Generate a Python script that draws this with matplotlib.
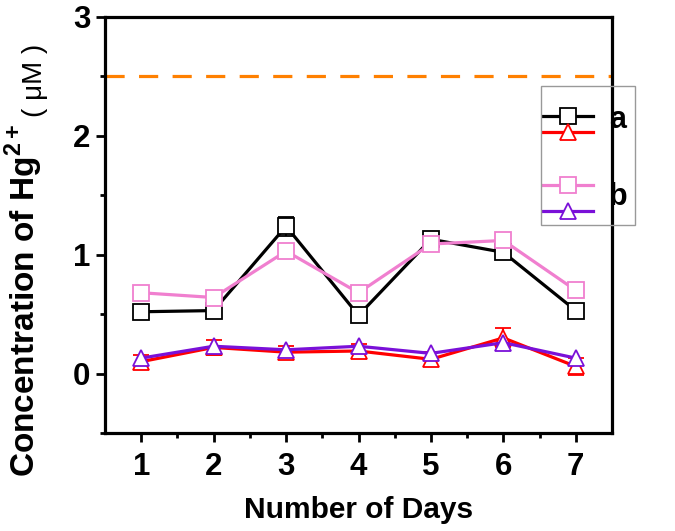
import matplotlib
matplotlib.use("Agg")
import matplotlib.pyplot as plt
import matplotlib.patches as patches
from matplotlib.lines import Line2D

plt.rcParams['font.family'] = ['Liberation Sans', 'DejaVu Sans']
plt.rcParams['mathtext.fontset'] = 'custom'
plt.rcParams['mathtext.rm'] = 'Liberation Sans:bold'
plt.rcParams['mathtext.bf'] = 'Liberation Sans:bold'

# --- data ---
days = [1, 2, 3, 4, 5, 6, 7]
a_black = [0.52, 0.53, 1.24, 0.49, 1.13, 1.02, 0.53]
a_black_err = [0.03, 0.03, 0.08, 0.05, 0.04, 0.05, 0.04]
a_red = [0.10, 0.22, 0.18, 0.19, 0.12, 0.30, 0.06]
a_red_err = [0.06, 0.06, 0.05, 0.06, 0.06, 0.08, 0.07]
b_pink = [0.68, 0.64, 1.03, 0.68, 1.09, 1.12, 0.70]
b_purple = [0.13, 0.23, 0.20, 0.23, 0.17, 0.26, 0.13]
limit_value = 2.5

W, H = 675, 531
fig = plt.figure(figsize=(W / 100, H / 100), dpi=100)
ax = fig.add_axes([105 / W, 1 - 433 / H, (612 - 105) / W, (433 - 17) / H])

ax.axhline(limit_value, color='#ff8000', lw=2.3, dashes=(6, 4.5), zorder=1)

lw = 2.3
ms = 11.5
mew = 1.3
pink = '#f07fcf'
purple = '#7a10d8'

ax.plot(days, b_pink, color=pink, lw=lw, marker='s', ms=ms, mfc='white',
        mec=pink, mew=mew, zorder=3)
ax.errorbar(days, a_black, yerr=a_black_err, color='black', lw=lw, marker='s',
            ms=ms, mfc='white', mec='black', mew=mew, capsize=6, elinewidth=1.5,
            capthick=1.5, zorder=2)
ax.errorbar(days, a_red, yerr=a_red_err, color='red', lw=lw, marker='^',
            ms=ms, mfc='white', mec='red', mew=mew, capsize=6, elinewidth=1.5,
            capthick=1.5, zorder=4)
ax.plot(days, b_purple, color=purple, lw=lw, marker='^', ms=ms, mfc='white',
        mec=purple, mew=mew, zorder=5)

# --- axes formatting ---
ax.set_xlim(0.5, 7.5)
ax.set_ylim(-0.5, 3)
ax.set_xticks(days)
ax.set_xticks([1.5, 2.5, 3.5, 4.5, 5.5, 6.5], minor=True)
ax.set_yticks([0, 1, 2, 3])
ax.set_yticks([-0.5, 0.5, 1.5, 2.5], minor=True)
for s in ax.spines.values():
    s.set_linewidth(2.3)
ax.tick_params(which='major', direction='out', length=6.5, width=2, labelsize=22.5)
ax.tick_params(axis='x', which='major', pad=7)
ax.tick_params(axis='y', which='major', pad=4)
ax.tick_params(which='minor', direction='out', length=3.5, width=2)
ax.tick_params(top=False, right=False)
for lab in ax.get_xticklabels() + ax.get_yticklabels():
    lab.set_fontweight('bold')

ax.set_xlabel('Number of Days', fontsize=21.5, fontweight='bold', labelpad=10)

# y label: bold part and the (μM) part in normal weight
fig.text(35 / W, 1 - 477 / H, r'Concentration of Hg$^{2+}$', rotation=90,
         rotation_mode='anchor', fontsize=24, fontweight='bold',
         ha='left', va='baseline')
fig.text(42 / W, 1 - 117 / H, '( μM )', rotation=90, rotation_mode='anchor',
         fontsize=20, ha='left', va='baseline')

# --- legend ---
h_black = Line2D([], [], color='black', lw=lw, marker='s', ms=ms, mfc='white', mec='black', mew=mew)
h_red = Line2D([], [], color='red', lw=lw, marker='^', ms=ms, mfc='white', mec='red', mew=mew)
h_pink = Line2D([], [], color=pink, lw=lw, marker='s', ms=ms, mfc='white', mec=pink, mew=mew)
h_purple = Line2D([], [], color=purple, lw=lw, marker='^', ms=ms, mfc='white', mec=purple, mew=mew)

leg1 = ax.legend([h_black, h_red], ['', ''], frameon=False, fontsize=10,
                 handlelength=3.6, labelspacing=0.15, borderpad=0, borderaxespad=0,
                 loc='center left', bbox_to_anchor=(543 / W, 1 - 125 / H),
                 bbox_transform=fig.transFigure)
ax.add_artist(leg1)
leg2 = ax.legend([h_pink, h_purple], ['', ''], frameon=False, fontsize=10,
                 handlelength=3.6, labelspacing=0.9, borderpad=0, borderaxespad=0,
                 loc='center left', bbox_to_anchor=(543 / W, 1 - 199 / H),
                 bbox_transform=fig.transFigure)
fig.patches.append(patches.Rectangle((541 / W, 1 - 225 / H), 94 / W, 139 / H,
                                     transform=fig.transFigure, fill=False,
                                     edgecolor='#999999', lw=1))
fig.text(618 / W, 1 - 120 / H, 'a', fontsize=22, fontweight='bold', ha='center', va='center')
fig.text(618 / W, 1 - 197 / H, 'b', fontsize=22, fontweight='bold', ha='center', va='center')

fig.savefig('out.png', dpi=100)
